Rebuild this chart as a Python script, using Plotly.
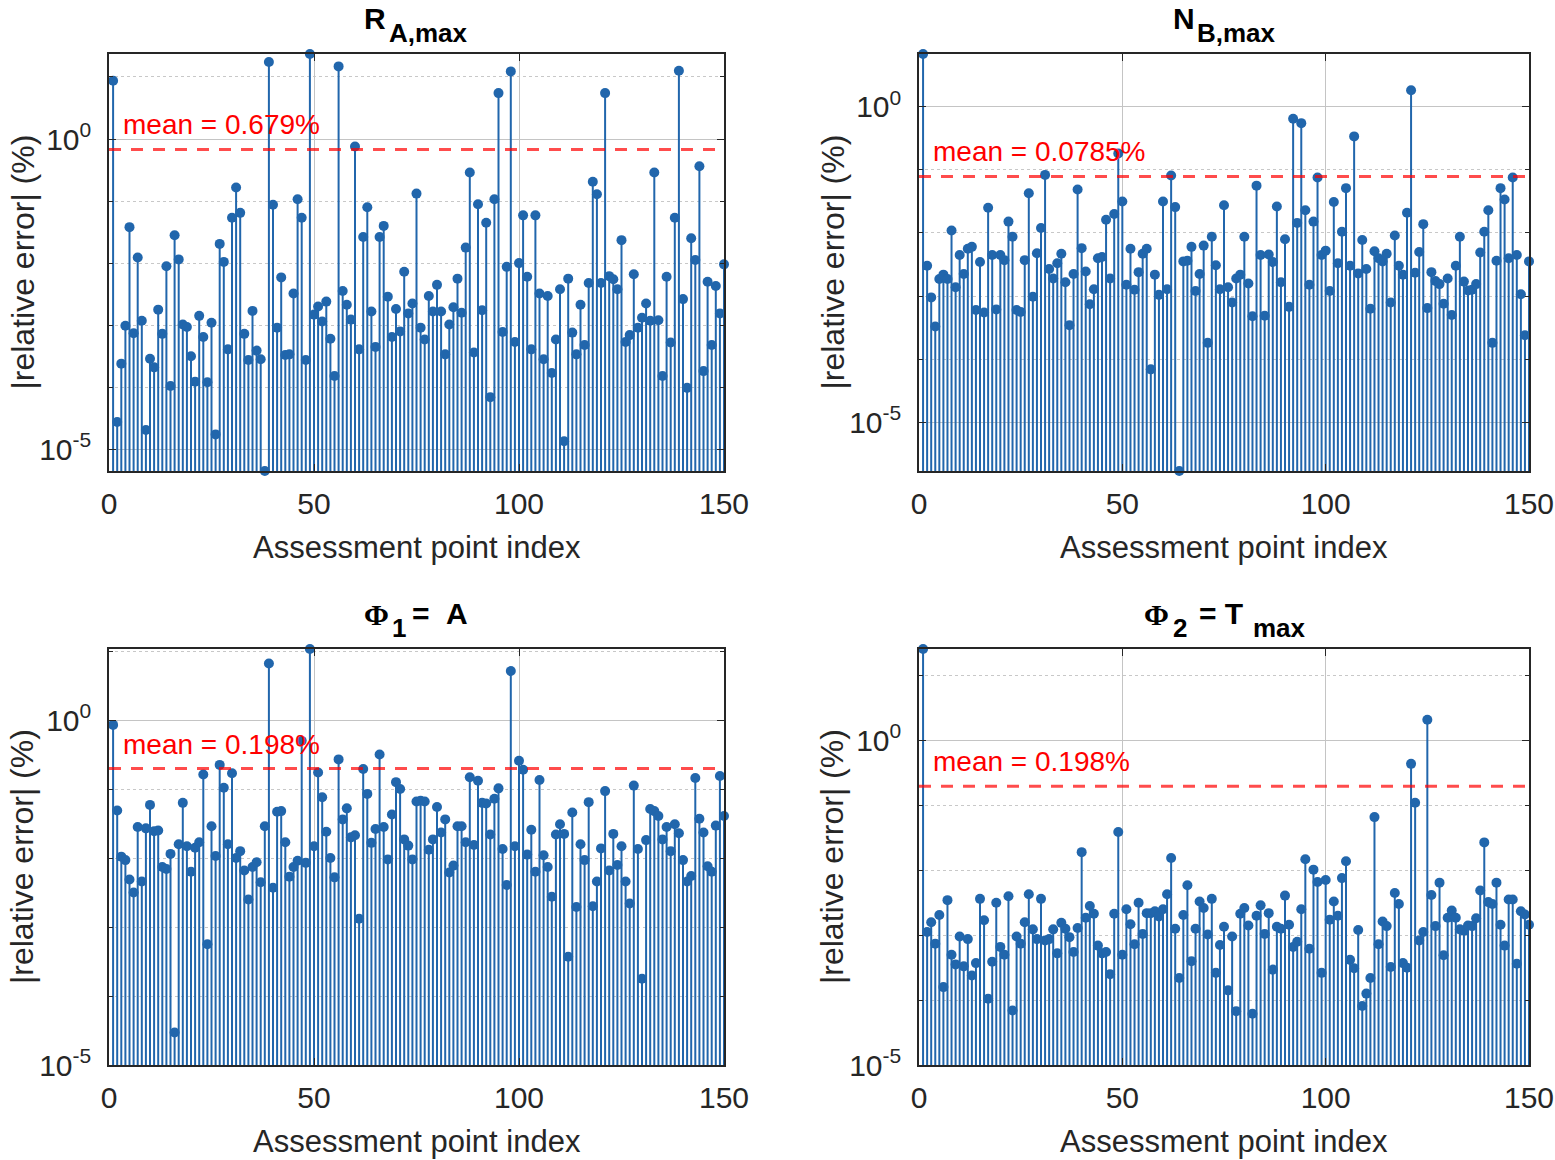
import numpy as np
import plotly.graph_objects as go

# assessment points 1..150
point_index = list(range(1, 151))

# |relative error| (%), written as powers of ten
ra_max_exp = [
    0.94, -4.56, -3.62, -3.01, -1.42, -3.13, -1.91, -2.93, -4.69, -3.54,
    -3.68, -2.75, -3.14, -2.05, -3.98, -1.55, -1.94, -2.99, -3.03, -3.50,
    -3.91, -2.85, -3.19, -3.92, -2.96, -4.76, -1.69, -1.98, -3.39, -1.27,
    -0.78, -1.19, -3.14, -3.56, -2.77, -3.41, -3.55, -5.35, 1.24, -1.06,
    -3.04, -2.23, -3.48, -3.47, -2.49, -0.97, -1.27, -3.56, 1.37, -2.83,
    -2.70, -2.94, -2.62, -3.22, -3.82, 1.17, -2.45, -2.67, -2.91, -0.12,
    -3.39, -1.58, -1.10, -2.78, -3.35, -1.58, -1.40, -2.54, -3.19, -2.74,
    -3.10, -2.14, -2.81, -2.65, -0.88, -3.04, -3.23, -2.53, -2.78, -2.35,
    -2.78, -3.47, -2.99, -2.71, -2.25, -2.80, -1.75, -0.54, -3.44, -1.05,
    -2.76, -1.35, -4.16, -0.97, 0.74, -3.11, -2.06, 1.09, -3.27, -2.00,
    -1.23, -2.22, -3.39, -1.23, -2.49, -3.55, -2.53, -3.77, -3.23, -2.42,
    -4.87, -2.25, -3.12, -3.47, -2.67, -3.32, -2.32, -0.69, -0.89, -2.32,
    0.74, -2.21, -2.26, -2.42, -1.63, -3.27, -3.16, -2.18, -3.04, -2.88,
    -2.65, -2.93, -0.54, -2.92, -3.82, -2.22, -3.28, -1.27, 1.10, -2.58,
    -4.01, -1.60, -1.95, -0.44, -3.74, -2.30, -3.32, -2.37, -2.81, -2.02,
]
nb_max_exp = [
    0.835, -2.52, -3.02, -3.48, -2.73, -2.66, -2.73, -1.96, -2.86, -2.35,
    -2.65, -2.25, -2.22, -3.22, -2.46, -3.26, -1.60, -2.35, -3.21, -2.35,
    -2.43, -1.82, -2.06, -3.22, -3.25, -2.43, -1.37, -3.01, -2.32, -1.92,
    -1.08, -2.57, -2.72, -2.48, -2.33, -2.78, -3.46, -2.65, -1.31, -2.24,
    -2.61, -3.13, -2.89, -2.40, -2.38, -1.79, -2.72, -1.70, -0.74, -1.50,
    -2.82, -2.25, -2.90, -2.62, -2.33, -2.25, -4.16, -2.66, -2.98, -1.50,
    -2.89, -1.09, -1.59, -5.77, -2.45, -2.44, -2.22, -2.92, -2.65, -2.20,
    -3.74, -2.06, -2.51, -2.89, -1.56, -2.86, -3.10, -2.72, -2.66, -2.06,
    -2.80, -3.32, -1.25, -2.35, -3.31, -2.34, -2.46, -1.58, -2.78, -2.10,
    -3.17, -0.19, -1.84, -0.26, -1.64, -2.82, -1.82, -1.12, -2.35, -2.28,
    -2.92, -1.51, -2.48, -1.98, -1.29, -2.52, -0.47, -2.64, -2.11, -2.57,
    -3.20, -2.29, -2.40, -2.45, -2.33, -3.10, -2.04, -2.52, -2.66, -1.68,
    0.26, -2.63, -2.30, -1.86, -3.19, -2.62, -2.76, -2.81, -3.12, -2.72,
    -3.30, -2.52, -2.06, -2.77, -2.91, -2.90, -2.81, -2.31, -1.98, -1.64,
    -3.74, -2.44, -1.29, -1.47, -2.40, -1.12, -2.35, -2.97, -3.62, -2.45,
]
phi1_exp = [
    -0.07, -1.31, -1.98, -2.03, -2.31, -2.50, -1.55, -2.34, -1.57, -1.23,
    -1.61, -1.60, -2.13, -2.16, -1.94, -4.53, -1.80, -1.20, -1.83, -2.20,
    -1.85, -1.77, -0.79, -3.25, -1.54, -1.97, -0.65, -0.98, -1.80, -0.77,
    -2.00, -1.90, -2.18, -2.60, -2.13, -2.06, -2.35, -1.54, 0.82, -2.43,
    -1.33, -1.32, -1.77, -2.27, -2.13, -2.04, -0.30, -2.07, 1.03, -1.83,
    -0.76, -1.12, -1.62, -2.00, -2.28, -0.57, -1.44, -1.28, -1.70, -1.67,
    -2.88, -0.71, -1.07, -1.78, -1.58, -0.50, -1.55, -2.02, -1.37, -0.90,
    -1.00, -1.73, -1.82, -2.02, -1.18, -1.17, -1.18, -1.88, -1.73, -1.26,
    -1.63, -1.44, -2.21, -2.11, -1.54, -1.54, -1.77, -0.83, -1.81, -0.88,
    -1.20, -1.21, -1.66, -1.14, -0.99, -1.87, -2.39, 0.71, -1.83, -0.59,
    -0.72, -1.95, -1.59, -2.20, -0.87, -1.96, -2.13, -2.56, -1.66, -1.51,
    -1.65, -3.43, -1.34, -2.71, -1.80, -2.03, -1.19, -2.70, -2.34, -1.86,
    -1.03, -2.18, -1.65, -2.10, -1.83, -2.34, -2.66, -0.95, -1.87, -3.75,
    -1.74, -1.29, -1.32, -1.39, -1.73, -1.55, -1.90, -1.51, -1.64, -2.03,
    -2.34, -2.26, -0.84, -1.43, -1.63, -2.12, -2.20, -1.53, -0.81, -1.39,
]
phi2_exp = [
    1.41, -2.95, -2.80, -3.13, -2.69, -3.80, -2.46, -3.30, -3.45, -3.02,
    -3.48, -3.06, -3.62, -3.43, -2.44, -2.77, -3.98, -3.41, -2.50, -3.18,
    -3.30, -2.40, -4.16, -3.02, -3.13, -2.80, -2.37, -2.91, -3.06, -2.44,
    -3.08, -3.06, -2.91, -3.28, -2.81, -2.90, -3.03, -3.26, -2.89, -1.72,
    -2.73, -2.55, -2.67, -3.16, -3.28, -3.26, -3.60, -2.67, -1.41, -3.30,
    -2.60, -2.83, -3.14, -2.50, -2.98, -2.66, -2.66, -2.63, -2.71, -2.60,
    -2.37, -1.81, -2.90, -3.66, -2.69, -2.23, -3.40, -2.90, -2.48, -2.58,
    -2.99, -2.44, -3.58, -3.15, -2.87, -3.85, -3.02, -4.17, -2.67, -2.58,
    -2.85, -4.21, -2.70, -2.54, -2.98, -2.66, -3.53, -2.87, -2.90, -2.39,
    -2.84, -3.18, -3.10, -2.60, -1.83, -3.21, -1.99, -2.18, -3.58, -2.15,
    -2.76, -2.48, -2.70, -2.12, -1.86, -3.38, -3.51, -2.92, -4.09, -3.90,
    -3.66, -1.18, -3.14, -2.79, -2.86, -3.49, -2.35, -2.52, -3.43, -3.50,
    -0.36, -0.96, -3.08, -2.95, 0.32, -2.38, -2.86, -2.19, -3.31, -2.73,
    -2.62, -2.73, -2.91, -2.93, -2.85, -2.86, -2.74, -2.31, -1.57, -2.49,
    -2.52, -2.19, -2.84, -3.16, -2.45, -2.45, -3.44, -2.63, -2.68, -2.84,
]

mean_pct = [0.679, 0.0785, 0.198, 0.198]
# title pieces: (text, "main" | "sub" | "greek")
panel_titles = [
    [("R", "main"), ("A,max", "sub")],
    [("N", "main"), ("B,max", "sub")],
    [("Φ", "greek"), ("1", "sub"), ("=", "main"), ("A", "main")],
    [("Φ", "greek"), ("2", "sub"), ("= T", "main"), ("max", "sub")],
]
x_ticks = [0, 50, 100, 150]
decades = [-5, -4, -3, -2, -1, 0, 1]
major_decades = [-5, 0]

BLUE = "#2166ac"
AX = "#262626"
FONT = "Liberation Sans, Arial, sans-serif"
W, H = 1555, 1160

# axes boxes in pixels: (left, right, top, bottom)
boxes = [(109, 724, 54, 471), (919, 1529, 54, 471),
         (109, 724, 649, 1065), (919, 1529, 649, 1065)]
# left edge of each title piece, pixels from the axes centre
title_offsets = [[-54, -29], [-52, -28], [-54, -26, -6, 28], [-81, -52, -26, 28]]

fig = go.Figure()
series = [ra_max_exp, nb_max_exp, phi1_exp, phi2_exp]

for k, exps in enumerate(series):
    n = "" if k == 0 else str(k + 1)
    xa, ya = "x" + n, "y" + n
    vals = [10 ** e for e in exps]
    lo = min(min(exps), -5)
    hi = max(exps)
    base = 10 ** (lo - 1)

    sx, sy = [], []
    for i, v in zip(point_index, vals):
        sx += [i, i, None]
        sy += [base, v, None]
    fig.add_trace(go.Scatter(x=sx, y=sy, mode="lines", xaxis=xa, yaxis=ya,
                             line=dict(color=BLUE, width=2), hoverinfo="skip"))
    fig.add_trace(go.Scatter(x=point_index, y=vals, mode="markers", xaxis=xa, yaxis=ya,
                             marker=dict(color=BLUE, size=10), cliponaxis=False))
    fig.add_trace(go.Scatter(x=[0, 150], y=[mean_pct[k]] * 2, mode="lines",
                             xaxis=xa, yaxis=ya,
                             line=dict(color="rgba(255,0,0,0.7)", width=3, dash="12px,10px")))

    l, r, t, b = boxes[k]
    fig.layout["xaxis" + n] = dict(
        domain=[l / W, r / W], anchor=ya, range=[0, 150], automargin=False,
        tickvals=x_ticks, ticks="inside", ticklen=7, tickcolor=AX, tickwidth=1.2,
        showline=True, linecolor=AX, linewidth=1.5, mirror="allticks",
        showgrid=True, gridcolor="#c4c4c4", gridwidth=1.3, zeroline=False,
        tickfont=dict(family=FONT, size=30, color=AX), ticklabelstandoff=5,
    )
    fig.layout["yaxis" + n] = dict(
        domain=[1 - b / H, 1 - t / H], anchor=xa, type="log", range=[lo, hi],
        automargin=False,
        tickvals=[10.0 ** d for d in major_decades],
        ticktext=["10<sup>%d</sup>" % d for d in major_decades],
        ticks="inside", ticklen=7, tickcolor=AX, tickwidth=1.2,
        showline=True, linecolor=AX, linewidth=1.5, mirror="allticks",
        showgrid=True, gridcolor="#c4c4c4", gridwidth=1.3, zeroline=False,
        tickfont=dict(family=FONT, size=30, color=AX), ticklabelstandoff=10,
        minor=dict(tickvals=[10.0 ** d for d in decades if d not in major_decades],
                   ticks="inside", ticklen=4, tickcolor=AX, showgrid=True,
                   gridcolor="#c8c8c8", griddash="dot", gridwidth=1.3),
    )

    dom_x, dom_y = xa + " domain", ya + " domain"
    for (txt, kind), off in zip(panel_titles[k], title_offsets[k]):
        if kind == "sub":
            fsize, fam, lift = 26, FONT, 4
        elif kind == "greek":
            fsize, fam, lift = 30, "Liberation Serif, DejaVu Serif, serif", 16
        else:
            fsize, fam, lift = 30, FONT, 17
        fig.add_annotation(text="<b>%s</b>" % txt, xref=dom_x, yref=dom_y, x=0.5, y=1,
                           xanchor="left", yanchor="bottom", xshift=off - 1, yshift=lift,
                           showarrow=False, font=dict(family=fam, size=fsize, color="black"))
    fig.add_annotation(text="Assessment point index", xref=dom_x, yref=dom_y, x=0.5, y=0,
                       yanchor="middle", yshift=-76, showarrow=False,
                       font=dict(family=FONT, size=31, color=AX))
    fig.add_annotation(text="|relative error| (%)", xref=dom_x, yref=dom_y, x=0, y=0.5,
                       xanchor="center", xshift=-87, textangle=-90, showarrow=False,
                       font=dict(family=FONT, size=32, color=AX))
    fig.add_annotation(text="mean = %g%%" % mean_pct[k], xref=xa, yref=ya, x=3,
                       y=np.log10(mean_pct[k]), xanchor="left", yanchor="bottom",
                       yshift=7, showarrow=False, font=dict(family=FONT, size=28, color="red"))

fig.update_layout(width=W, height=H, margin=dict(l=0, r=0, t=0, b=0),
                  plot_bgcolor="white", paper_bgcolor="white", showlegend=False)

# drop the default page margin so the figure sits at the window corner
fig.write_html("out.html", config={"displayModeBar": False},
               post_script="document.body.style.margin = '0px';")
